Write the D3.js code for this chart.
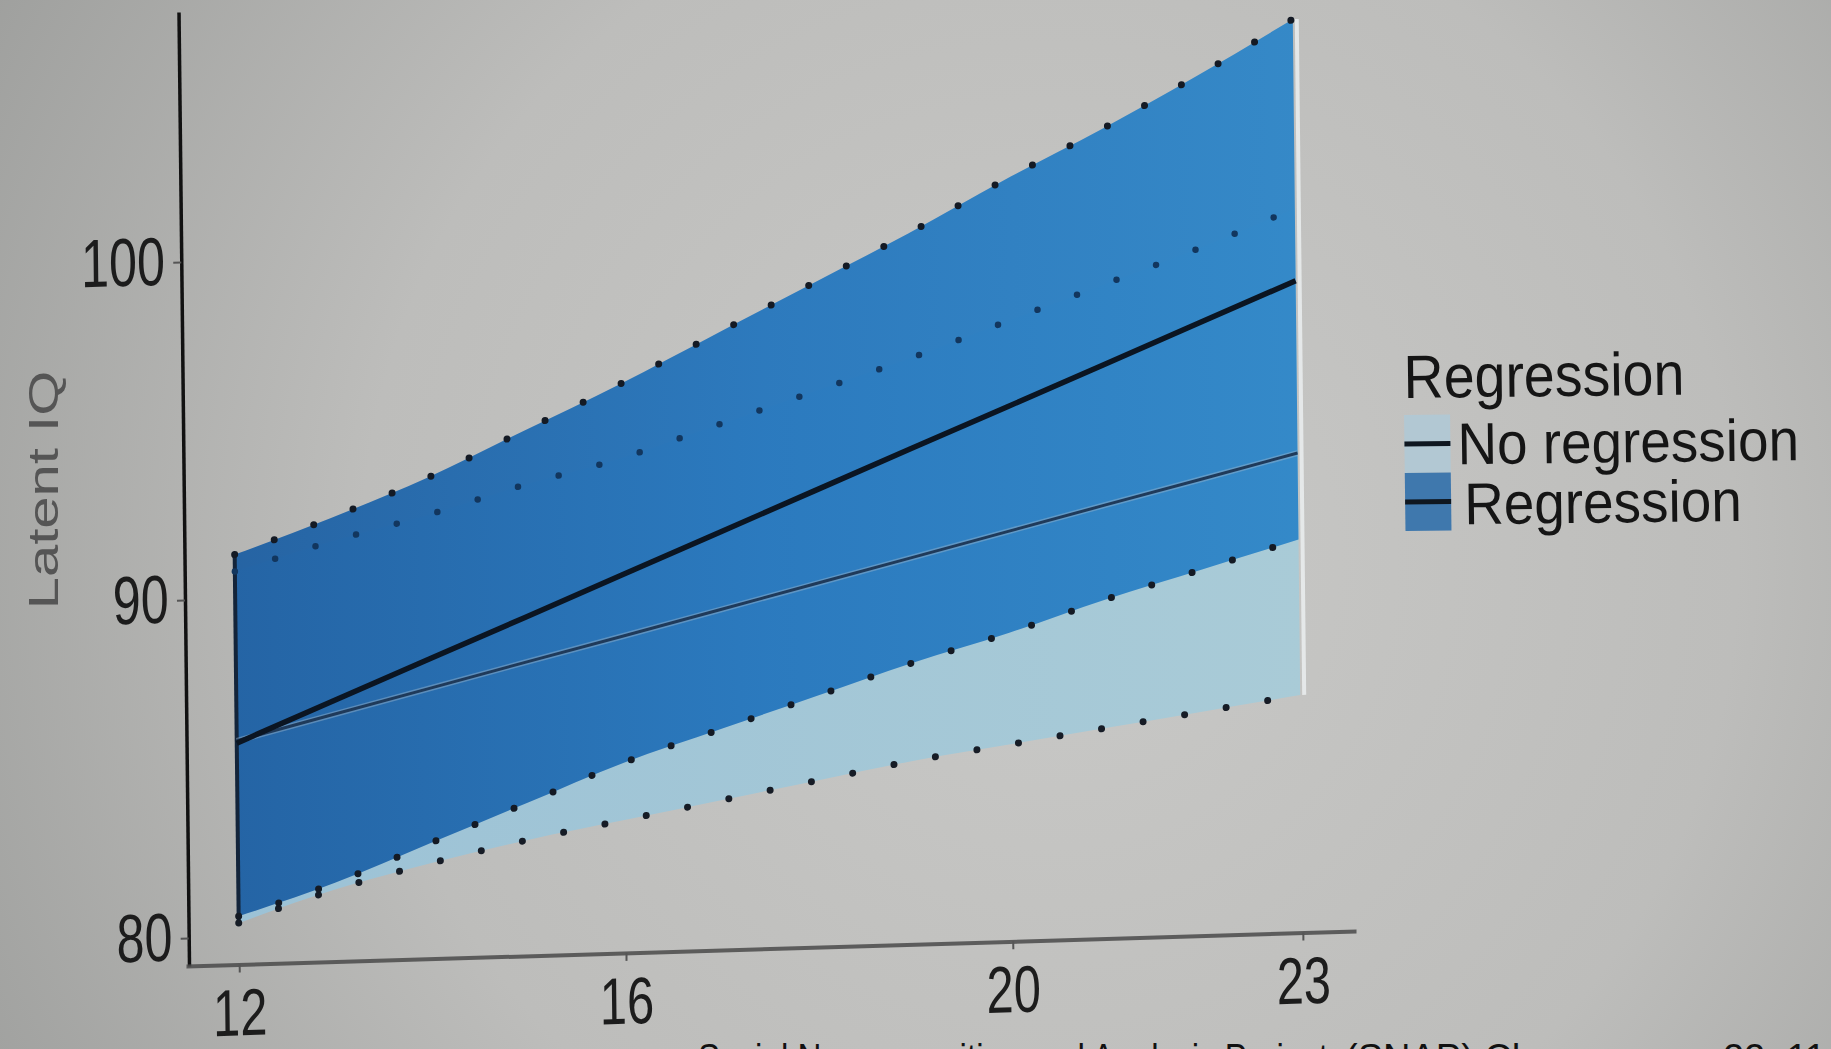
<!DOCTYPE html>
<html>
<head>
<meta charset="utf-8">
<script src="https://cdn.jsdelivr.net/npm/d3@7"></script>
<style>
  html, body { margin: 0; padding: 0; overflow: hidden; background: #b8b8b6; }
  svg { display: block; }
  text { font-family: "Liberation Sans", Arial, sans-serif; }
</style>
</head>
<body>
<svg id="chart" width="1831" height="1049"></svg>
<script>
// Latent IQ trajectories by age, with confidence ribbons, for two groups
const ages = [12, 13, 14, 15, 16, 17, 18, 19, 20, 21, 22, 23];

const regMean  = [85.72, 86.88, 88.04, 89.19, 90.35, 91.51, 92.67, 93.83, 94.98, 96.14, 97.30, 98.46];
const regUpper = [91.3, 92.3, 93.4, 94.7, 96.0, 97.4, 98.8, 100.2, 101.7, 103.1, 104.6, 106.2];
const regLower = [80.6, 81.5, 82.6, 83.7, 84.8, 85.7, 86.6, 87.5, 88.3, 89.2, 90.0, 90.8];

const noRegMean  = [85.79, 86.48, 87.17, 87.86, 88.54, 89.23, 89.92, 90.61, 91.30, 91.99, 92.67, 93.36];
const noRegUpper = [90.8, 91.6, 92.3, 93.1, 93.8, 94.7, 95.6, 96.5, 97.5, 98.5, 99.5, 100.6];
const noRegLower = [80.4, 81.3, 82.0, 82.6, 83.1, 83.6, 84.1, 84.6, 85.0, 85.4, 85.8, 86.2];

const xTicks = [12, 16, 20, 23];
const yTicks = [80, 90, 100];

const yTitle = "Latent IQ";
const legendTitle = "Regression";
const groupNames = ["No regression", "Regression"];
const captionLeft = "Social Neurocognition and Analysis Project";
const captionRight = "(SNAP) Chromosome 22q11.2 deletion study";

const svg = d3.select("#chart");
const W = 1831, H = 1049;

// ---- backdrop --------------------------------------------------------
const defs = svg.append("defs");
const bg = defs.append("radialGradient").attr("id", "bg")
  .attr("gradientUnits", "userSpaceOnUse")
  .attr("cx", 1050).attr("cy", 560).attr("r", 1250);
bg.append("stop").attr("offset", 0).attr("stop-color", "#c9c9c7");
bg.append("stop").attr("offset", 0.55).attr("stop-color", "#bdbdbb");
bg.append("stop").attr("offset", 1).attr("stop-color", "#9c9d9b");
svg.append("rect").attr("width", W).attr("height", H).attr("fill", "url(#bg)");

const darkFill = defs.append("linearGradient").attr("id", "darkFill")
  .attr("gradientUnits", "userSpaceOnUse")
  .attr("x1", 230).attr("y1", 0).attr("x2", 1310).attr("y2", 0);
darkFill.append("stop").attr("offset", 0).attr("stop-color", "#1e5fa2");
darkFill.append("stop").attr("offset", 0.5).attr("stop-color", "#2576bd");
darkFill.append("stop").attr("offset", 1).attr("stop-color", "#2e86c8");

const lightFill = defs.append("linearGradient").attr("id", "lightFill")
  .attr("gradientUnits", "userSpaceOnUse")
  .attr("x1", 230).attr("y1", 0).attr("x2", 1310).attr("y2", 0);
lightFill.append("stop").attr("offset", 0).attr("stop-color", "#9cc2d6");
lightFill.append("stop").attr("offset", 1).attr("stop-color", "#a9cbd7");

// ---- scales ----------------------------------------------------------
const x = d3.scaleLinear().domain([11.45, 23.55]).range([186, 1356]);
const y = d3.scaleLinear().domain([79.17, 107.4]).range([966, 12]);

// the panel is drawn slightly sheared (projected slide)
const X0 = 189, Y0 = 966, shY = -0.03, shX = 0.011;
const plot = svg.append("g")
  .attr("transform", `matrix(1,${shY},${shX},1,${-shX * Y0},${-shY * X0})`);

const rows = ages.map((a, i) => ({
  age: a,
  rm: regMean[i], ru: regUpper[i], rl: regLower[i],
  nm: noRegMean[i], nu: noRegUpper[i], nl: noRegLower[i]
}));

const curve = d3.curveMonotoneX;
const area = (lo, hi) => d3.area().curve(curve)
  .x(d => x(d.age)).y0(d => y(d[lo])).y1(d => y(d[hi]));
const line = (key, c = curve) => d3.line().curve(c).x(d => x(d.age)).y(d => y(d[key]));

// ribbons
plot.append("path").datum(rows).attr("d", area("nl", "nu")(rows))
  .attr("fill", "url(#lightFill)");
plot.append("path").datum(rows).attr("d", area("rl", "ru")(rows))
  .attr("fill", "url(#darkFill)").attr("fill-opacity", 0.95);

// bright rim on the right end of the ribbons, dark rim on the left
const first = rows[0], last = rows[rows.length - 1];
plot.append("line")
  .attr("x1", x(last.age) + 4).attr("x2", x(last.age) + 4)
  .attr("y1", y(last.ru)).attr("y2", y(last.nl))
  .attr("stroke", "#eef2f3").attr("stroke-width", 4).attr("opacity", 0.8);
plot.append("line")
  .attr("x1", x(first.age)).attr("x2", x(first.age))
  .attr("y1", y(first.ru)).attr("y2", y(Math.min(first.rl, first.nl)))
  .attr("stroke", "#13243a").attr("stroke-width", 4);

// no-regression mean line
plot.append("path").datum(rows).attr("d", line("nm", d3.curveLinear))
  .attr("fill", "none").attr("stroke", "#9bb6cc").attr("stroke-width", 6).attr("opacity", 0.45);
plot.append("path").datum(rows).attr("d", line("nm", d3.curveLinear))
  .attr("fill", "none").attr("stroke", "#1f3a5a").attr("stroke-width", 3);

// dotted ribbon borders
const dotted = (key, color, w) => plot.append("path").datum(rows).attr("d", line(key))
  .attr("fill", "none").attr("stroke", color).attr("stroke-width", w)
  .attr("stroke-linecap", "round").attr("stroke-dasharray", "0 42");
dotted("nu", "#12365e", 6.5);
dotted("nl", "#161c26", 7);
dotted("rl", "#141a24", 7);
dotted("ru", "#141a24", 7);

// regression mean line
plot.append("path").datum(rows).attr("d", line("rm", d3.curveLinear))
  .attr("fill", "none").attr("stroke", "#0b1522").attr("stroke-width", 5.5);

// ---- axes ------------------------------------------------------------
const yAxis = plot.append("g").attr("transform", `translate(${X0},0)`)
  .call(d3.axisLeft(y).tickValues(yTicks).tickSize(8).tickSizeOuter(0).tickPadding(14));
yAxis.select(".domain").attr("stroke", "#111").attr("stroke-width", 3.5);
yAxis.selectAll(".tick line").attr("stroke", "#555").attr("stroke-width", 2);
yAxis.selectAll(".tick text")
  .attr("font-size", 68).attr("fill", "#1c1c1c")
  .attr("font-family", "Liberation Sans, Arial, sans-serif")
  .attr("transform", "scale(0.74,1)");

const xAxis = plot.append("g").attr("transform", `translate(0,${Y0})`)
  .call(d3.axisBottom(x).tickValues(xTicks).tickSize(8).tickSizeOuter(0).tickPadding(16));
xAxis.select(".domain").attr("stroke", "#4a4a4a").attr("stroke-width", 4).attr("opacity", 0.85);
xAxis.selectAll(".tick line").attr("stroke", "#555").attr("stroke-width", 2);
xAxis.selectAll(".tick text")
  .attr("font-size", 66).attr("fill", "#1c1c1c")
  .attr("font-family", "Liberation Sans, Arial, sans-serif")
  .attr("transform", "scale(0.74,1)");

// y-axis title
svg.append("text")
  .attr("transform", "translate(58,490) scale(0.74,1) rotate(-90)")
  .attr("text-anchor", "middle")
  .attr("font-size", 58).attr("fill", "#555555")
  .text(yTitle);

// ---- legend ----------------------------------------------------------
const legend = svg.append("g").attr("transform", "translate(1399,0) rotate(-0.7)");
legend.append("text").attr("x", 0).attr("y", 398)
  .attr("font-size", 61).attr("fill", "#151515")
  .attr("transform", "scale(0.91,1)")
  .text(legendTitle);

const keyFills = ["#b2c8d3", "#3f78ad"];
const keyTop = [415, 473];
const keyBase = [465, 525];
groupNames.forEach((name, i) => {
  const k = legend.append("g");
  k.append("rect").attr("x", 0).attr("y", keyTop[i]).attr("width", 46).attr("height", 58)
    .attr("fill", keyFills[i]);
  k.append("line").attr("x1", 0).attr("x2", 46)
    .attr("y1", keyTop[i] + 29).attr("y2", keyTop[i] + 29)
    .attr("stroke", "#0f1720").attr("stroke-width", 5);
  k.append("text").attr("x", (53 + i * 6) / 0.93).attr("y", keyBase[i])
    .attr("font-size", 59).attr("fill", "#151515")
    .attr("transform", "scale(0.93,1)")
    .text(name);
});

// ---- footer caption (runs off the bottom edge) -------------------------
const caption = svg.append("text").attr("y", 1071)
  .attr("font-family", "Open Sans, sans-serif").attr("font-size", 38).attr("fill", "#111");
caption.append("tspan").attr("x", 698)
  .attr("textLength", 630).attr("lengthAdjust", "spacingAndGlyphs")
  .text(captionLeft);
caption.append("tspan").attr("x", 1345).text(captionRight);
</script>
</body>
</html>
